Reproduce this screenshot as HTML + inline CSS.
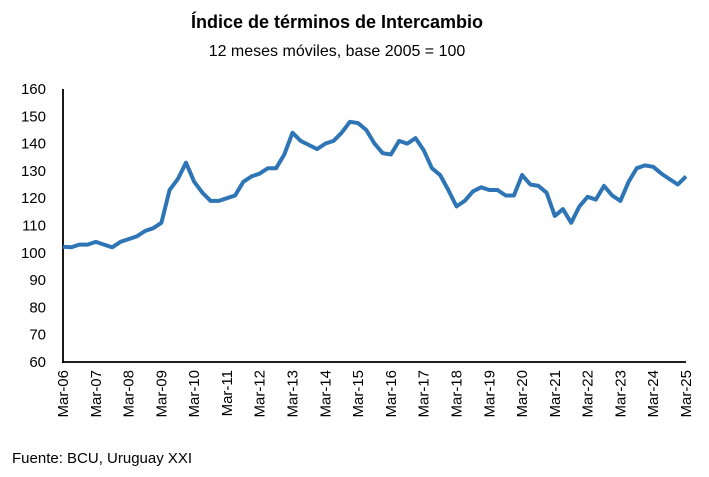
<!DOCTYPE html>
<html><head><meta charset="utf-8"><style>
body{margin:0;background:#fff;}
svg text{font-family:"Liberation Sans",Calibri,sans-serif;fill:#000;}
</style></head><body>
<svg width="709" height="472" viewBox="0 0 709 472">
<text x="337" y="28" text-anchor="middle" font-size="18" font-weight="bold">Índice de términos de Intercambio</text>
<text x="337" y="56" text-anchor="middle" font-size="16">12 meses móviles, base 2005 = 100</text>
<g id="axes"></g>
<path id="line" fill="none" stroke="#2E75B6" stroke-width="4" stroke-linejoin="round"/>
<text x="12" y="463" font-size="15">Fuente: BCU, Uruguay XXI</text>
</svg>
<script>
const yTicks=[60,70,80,90,100,110,120,130,140,150,160];
const xLabels=["Mar-06","Mar-07","Mar-08","Mar-09","Mar-10","Mar-11","Mar-12","Mar-13","Mar-14","Mar-15","Mar-16","Mar-17","Mar-18","Mar-19","Mar-20","Mar-21","Mar-22","Mar-23","Mar-24","Mar-25"];
const values=[102.2,102,103,103,104,103,102,104,105,106,108,109,111,123,127,133,126,122,119,119,120,121,126,128,129,131,131,136,144,141,139.5,138,140,141,144,148,147.5,145,140,136.5,136,141,140,142,137.6,131,128.5,123,117,119,122.5,124,123,123,121,121,128.5,125,124.5,122,113.5,116,111,117,120.5,119.5,124.5,121,119,126,131,132,131.5,129,127,125,128];
const L=63,R=686,T=89,B=362;
const ns="http://www.w3.org/2000/svg";
const y=v=>B-(v-60)/100*(B-T);
const x=i=>L+i*(R-L)/(values.length-1);
const ax=document.getElementById('axes');
function mk(t,a){const e=document.createElementNS(ns,t);for(const k in a)e.setAttribute(k,a[k]);ax.appendChild(e);return e;}
yTicks.forEach(v=>{const t=mk('text',{x:46,y:y(v)+5,'text-anchor':'end','font-size':15});t.textContent=v;

});
xLabels.forEach((s,i)=>{const xx=L+i*(R-L)/(xLabels.length-1);
const t=mk('text',{x:0,y:0,'text-anchor':'end','font-size':15,transform:`translate(${xx+5},${B+8}) rotate(-90)`});t.textContent=s;

});
const ya=mk('line',{x1:L,x2:L,y1:T,y2:B+1,stroke:'#000','stroke-width':1.8});


const xa=mk('line',{x1:L-1,x2:R,y1:B,y2:B,stroke:'#000','stroke-width':1.8});


document.getElementById('line').setAttribute('d',values.map((v,i)=>(i?'L':'M')+x(i).toFixed(1)+','+y(v).toFixed(1)).join(''));
</script>
</body></html>
